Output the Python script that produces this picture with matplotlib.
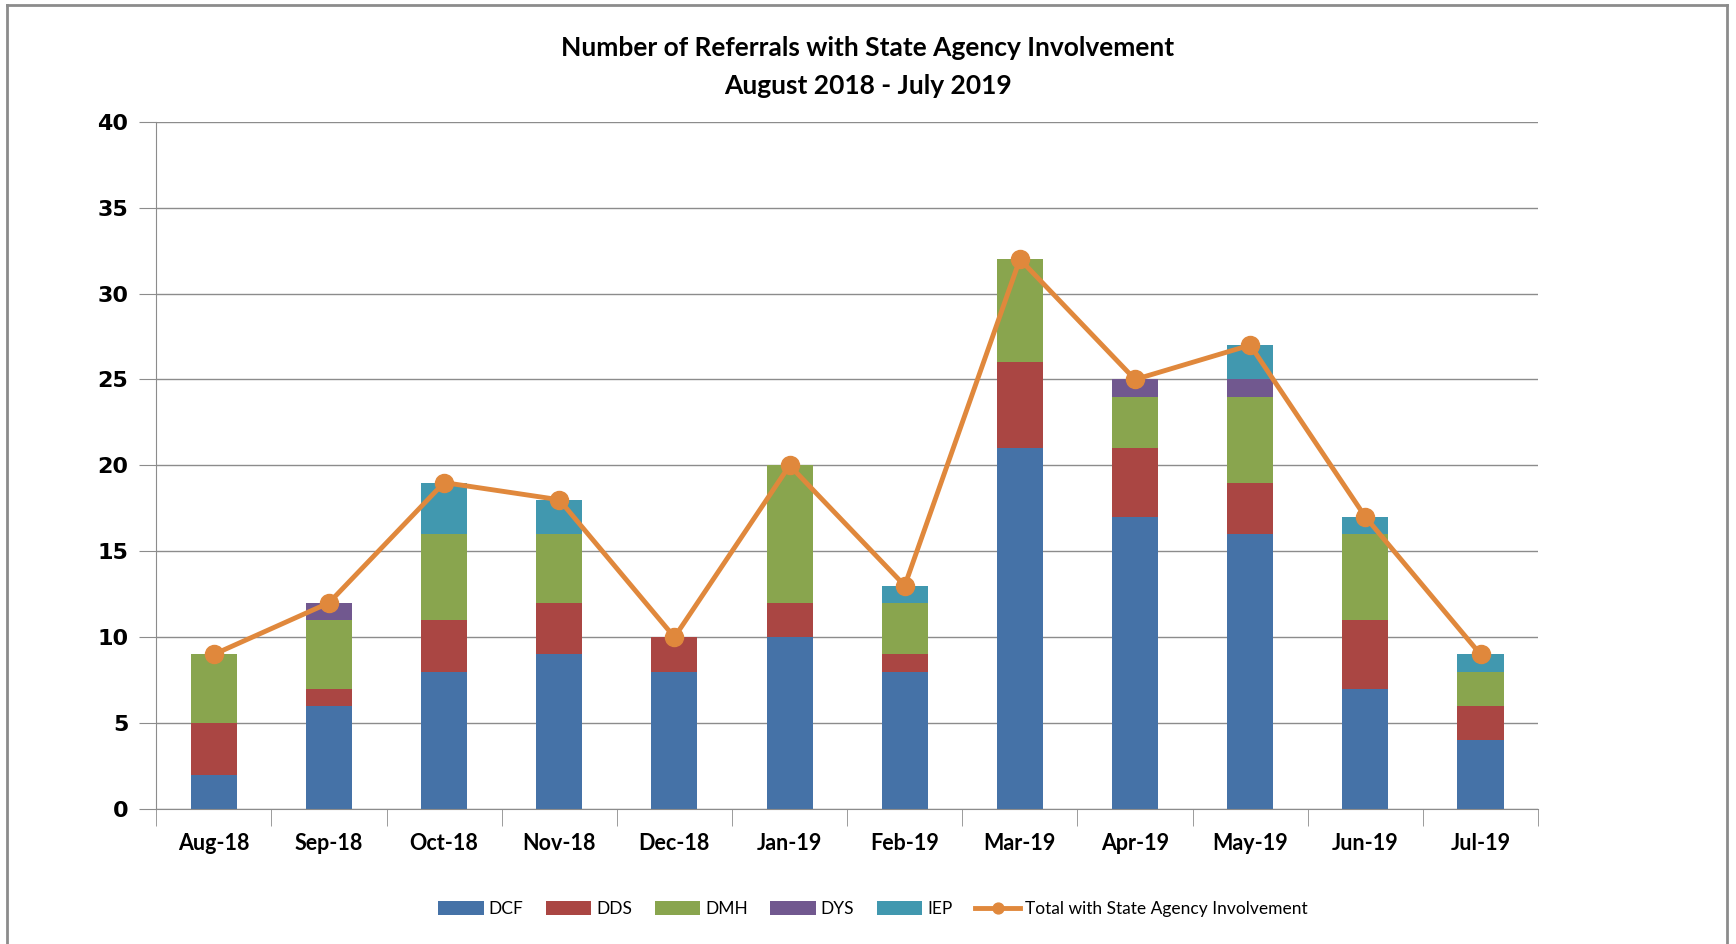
import matplotlib
matplotlib.use("Agg")
import matplotlib.pyplot as plt
import numpy as np

months = ["Aug-18", "Sep-18", "Oct-18", "Nov-18", "Dec-18", "Jan-19",
          "Feb-19", "Mar-19", "Apr-19", "May-19", "Jun-19", "Jul-19"]
dcf = [2, 6, 8, 9, 8, 10, 8, 21, 17, 16, 7, 4]
dds = [3, 1, 3, 3, 2, 2, 1, 5, 4, 3, 4, 2]
dmh = [4, 4, 5, 4, 0, 8, 3, 6, 3, 5, 5, 2]
dys = [0, 1, 0, 0, 0, 0, 0, 0, 1, 1, 0, 0]
iep = [0, 0, 3, 2, 0, 0, 1, 0, 0, 2, 1, 1]
total = [9, 12, 19, 18, 10, 20, 13, 32, 25, 27, 17, 9]

series = [("DCF", dcf, "#4572A7"), ("DDS", dds, "#AA4643"), ("DMH", dmh, "#89A54E"),
          ("DYS", dys, "#71588F"), ("IEP", iep, "#4198AF")]

fig = plt.figure(figsize=(17.36, 9.44), dpi=100)
ax = fig.add_axes([0.09, 0.143, 0.796, 0.728])

x = np.arange(len(months))
bottom = np.zeros(len(months))
for name, vals, col in series:
    ax.bar(x, vals, 0.4, bottom=bottom, color=col, label=name, zorder=2)
    bottom += np.array(vals)

line, = ax.plot(x, total, color="#E0883C", lw=3.5, marker="o", ms=13,
                label="Total with State Agency Involvement", zorder=3)

ax.set_ylim(0, 40)
ax.set_xlim(-0.5, len(months) - 0.5)
ax.set_yticks(range(0, 41, 5))
ax.yaxis.grid(True, color="#8c8c8c", lw=1, zorder=0)
for s in ["top", "right"]:
    ax.spines[s].set_visible(False)
for s in ["left", "bottom"]:
    ax.spines[s].set_color("#8c8c8c")

ax.set_xticks(x)
ax.set_xticklabels(months, fontsize=15.5, fontweight="bold", family=["Lato", "DejaVu Sans"])
ax.set_xticks(np.arange(-0.5, len(months)), minor=True)
ax.tick_params(axis="x", which="major", length=0, pad=17)
ax.tick_params(axis="x", which="minor", length=12, color="#8c8c8c")
ax.tick_params(axis="y", length=12, color="#8c8c8c", labelsize=16, pad=8)
for t in ax.get_yticklabels():
    t.set_fontweight("bold")

fig.text(0.5, 0.949, "Number of Referrals with State Agency Involvement",
         ha="center", va="center", fontsize=19, fontweight="bold", family=["Lato", "DejaVu Sans"])
fig.text(0.5, 0.909, "August 2018 - July 2019",
         ha="center", va="center", fontsize=19, fontweight="bold", family=["Lato", "DejaVu Sans"])

handles, labels = ax.get_legend_handles_labels()
order = [1, 2, 3, 4, 5, 0]
leg = fig.legend([handles[i] for i in order], [labels[i] for i in order],
                 loc="center", bbox_to_anchor=(0.503, 0.037), ncol=6, frameon=False,
                 prop={"family": ["Lato", "DejaVu Sans"], "size": 12.5},
                 handlelength=2.6, handleheight=0.8, columnspacing=1.3, handletextpad=0.3,
                 markerscale=0.6)

# outer border of the chart area
fig.add_artist(plt.Line2D([0.004, 0.004], [0, 0.995], color="#8c8c8c", lw=2))
fig.add_artist(plt.Line2D([0.004, 0.995], [0.995, 0.995], color="#8c8c8c", lw=2))
fig.add_artist(plt.Line2D([0.995, 0.995], [0, 0.995], color="#8c8c8c", lw=2))

fig.savefig("out.png", dpi=100)
